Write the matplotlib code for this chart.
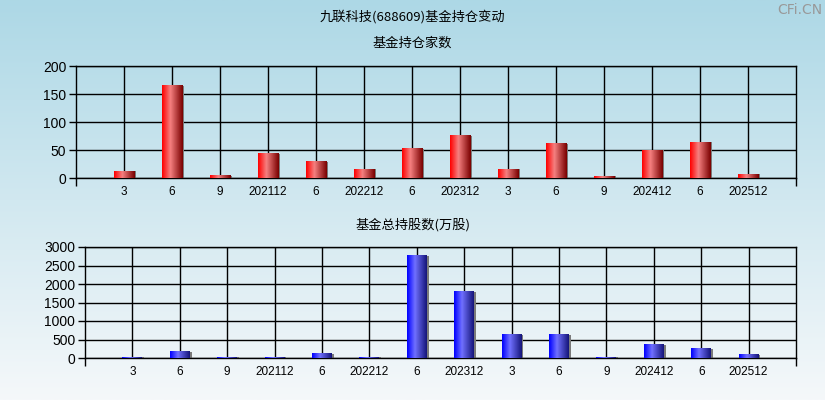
import matplotlib
matplotlib.use("Agg")
from matplotlib import pyplot as plt
from matplotlib.colors import LinearSegmentedColormap
import numpy as np

plt.rcParams['font.family'] = ['Noto Sans CJK SC', 'DejaVu Sans']

labels = ["3", "6", "9", "202112", "6", "202212", "6", "202312",
          "3", "6", "9", "202412", "6", "202512"]
fund_count = [12, 165, 4, 43, 29, 16, 52, 75, 16, 61, 3, 50, 64, 7]
fund_shares = [20, 170, 20, 20, 116, 20, 2765, 1790, 630, 630, 15, 360, 250, 90]

red_cmap = LinearSegmentedColormap.from_list(
    "r", [(0, "#ff0000"), (0.4, "#f58080"), (1, "#7a0000")])
blue_cmap = LinearSegmentedColormap.from_list(
    "b", [(0, "#0000ff"), (0.4, "#7070ff"), (1, "#15157a")])
tick_font = ["Liberation Sans", "DejaVu Sans"]

fig = plt.figure(figsize=(8.25, 4), dpi=100)

# background gradient
bg = fig.add_axes([0, 0, 1, 1], zorder=-10)
bg_cmap = LinearSegmentedColormap.from_list("bg", ["#add8e6", "#f5f8fa"])
bg.imshow(np.linspace(0, 1, 256).reshape(-1, 1), cmap=bg_cmap,
          aspect="auto", extent=[0, 1, 0, 1], origin="upper")
bg.axis("off")

fig.text(0.5, 1 - 17 / 400, "九联科技(688609)基金持仓变动", ha="center",
         va="center", fontsize=9.5)
fig.text(0.5, 1 - 43 / 400, "基金持仓家数", ha="center", va="center",
         fontsize=9.5)
fig.text(0.5, 1 - 225 / 400, "基金总持股数(万股)", ha="center", va="center",
         fontsize=9.5)
fig.text(0.97, 1 - 10 / 400, "CFi.CN", ha="center", va="center",
         fontsize=10, color="#999999", family="DejaVu Sans")


def draw(ax, values, cmap, ymax, step):
    x = np.arange(len(values))
    w = 0.42
    grad = np.linspace(0, 1, 64).reshape(1, -1)
    bars = ax.bar(x, values, width=w, color="none", zorder=3)
    for b in bars:
        x0 = b.get_x()
        h = b.get_height()
        ax.bar(x0 + w - 0.01, h, width=0.05, align="edge",
               color="#7a7a7a", linewidth=0, zorder=2)
        ax.imshow(grad, cmap=cmap, aspect="auto",
                  extent=[x0, x0 + w, 0, h], zorder=3)
    ax.set_xlim(-1, 14)
    ax.set_ylim(0, ymax)
    ax.set_facecolor("none")
    ax.set_xticks(x)
    ax.set_xticklabels(labels, fontsize=8.5, family=tick_font)
    ax.set_yticks(np.arange(0, ymax + 1, step))
    for t in ax.get_yticklabels():
        t.set_family(tick_font)
    ax.tick_params(axis="x", length=0, pad=6)
    ax.tick_params(axis="y", length=5, width=1, labelsize=10, pad=2)
    ax.set_xticks([-1, 14], minor=True)
    ax.tick_params(axis="x", which="minor", length=6, width=1)
    ax.grid(True, color="black", linewidth=1, zorder=1)
    ax.set_axisbelow(True)
    for s in ax.spines.values():
        s.set_color("black")
        s.set_linewidth(1)


ax1 = fig.add_axes([76 / 825, 1 - 178 / 400, 720 / 825, 112 / 400])
draw(ax1, fund_count, red_cmap, 200, 50)

ax2 = fig.add_axes([85 / 825, 1 - 358 / 400, 711 / 825, 111 / 400])
draw(ax2, fund_shares, blue_cmap, 3000, 500)

fig.savefig("out.png", dpi=100)
